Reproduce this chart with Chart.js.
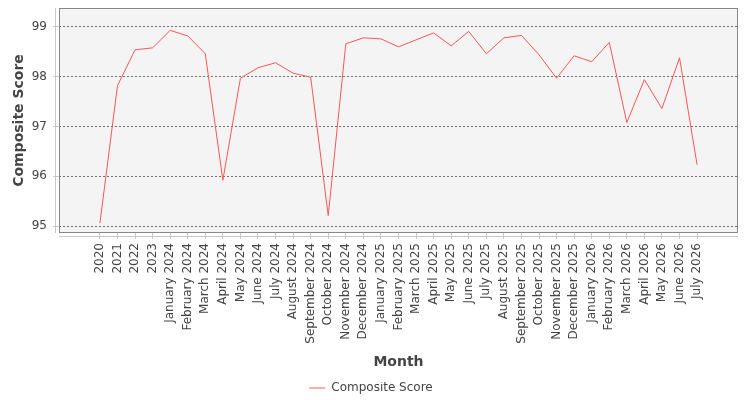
<!DOCTYPE html>
<html>
<head>
<meta charset="utf-8">
<script src="https://cdn.jsdelivr.net/npm/chart.js@4/dist/chart.umd.min.js"></script>
<style>
  html, body { margin: 0; padding: 0; background: #fff; }
  #wrap { width: 750px; height: 400px; }
</style>
</head>
<body>
<div id="wrap"><canvas id="myChart" width="750" height="400"></canvas></div>
<script>
// categories along the x axis
const months = [
  "2020", "2021", "2022", "2023",
  "January 2024", "February 2024", "March 2024", "April 2024", "May 2024", "June 2024",
  "July 2024", "August 2024", "September 2024", "October 2024", "November 2024", "December 2024",
  "January 2025", "February 2025", "March 2025", "April 2025", "May 2025", "June 2025",
  "July 2025", "August 2025", "September 2025", "October 2025", "November 2025", "December 2025",
  "January 2026", "February 2026", "March 2026", "April 2026", "May 2026", "June 2026", "July 2026"
];
// series values
const compositeScore = [
  95.06, 97.82, 98.54, 98.58,
  98.93, 98.82, 98.46, 95.92, 97.97, 98.18,
  98.28, 98.07, 97.99, 95.21, 98.66, 98.78,
  98.76, 98.60, 98.74, 98.88, 98.62, 98.91,
  98.46, 98.78, 98.83, 98.44, 97.97, 98.42,
  98.30, 98.69, 97.08, 97.94, 97.36, 98.38, 96.23
];
const yTicks = [95, 96, 97, 98, 99];

const textColor = "#444";
const fontFamily = "'DejaVu Sans', sans-serif";

// plot background, border and the offset axis lines
const plotFrame = {
  id: "plotFrame",
  beforeDraw(chart) {
    const { ctx, chartArea: a } = chart;
    ctx.save();
    ctx.fillStyle = "#f4f4f4";
    ctx.fillRect(a.left, a.top, a.right - a.left, a.bottom - a.top);
    ctx.restore();
  },
  afterDraw(chart) {
    const { ctx, chartArea: a } = chart;
    ctx.save();
    ctx.strokeStyle = "#888";
    ctx.lineWidth = 1;
    ctx.strokeRect(a.left + 0.5, a.top + 0.5, a.right - a.left - 1, a.bottom - a.top - 1);
    ctx.strokeStyle = "#c8c8c8";
    ctx.beginPath();
    ctx.moveTo(a.left - 3.5, a.top);
    ctx.lineTo(a.left - 3.5, a.bottom);
    ctx.moveTo(a.left, a.bottom + 3.5);
    ctx.lineTo(a.right, a.bottom + 3.5);
    ctx.stroke();
    ctx.restore();
  }
};

const noPad = (scale) => {
  scale.paddingTop = 0;
  scale.paddingBottom = 0;
  scale.paddingLeft = 0;
  scale.paddingRight = 0;
};

new Chart(document.getElementById("myChart").getContext("2d"), {
  type: "line",
  data: {
    datasets: [{
      label: "Composite Score",
      data: compositeScore.map((v, i) => ({ x: i, y: v })),
      borderColor: "rgb(255,85,85)",
      backgroundColor: "rgb(255,85,85)",
      borderWidth: 1,
      pointRadius: 0,
      tension: 0,
      fill: false
    }]
  },
  options: {
    responsive: false,
    animation: false,
    devicePixelRatio: 1,
    layout: { padding: { top: 8, right: 12, left: 4, bottom: -4 } },
    plugins: {
      legend: {
        position: "bottom",
        labels: {
          usePointStyle: true,
          pointStyle: "line",
          pointStyleWidth: 16,
          boxHeight: 10,
          color: textColor,
          padding: 0,
          font: { family: fontFamily, size: 12 }
        }
      },
      tooltip: { enabled: false }
    },
    scales: {
      x: {
        type: "linear",
        min: -2.33,
        max: 36.33,
        afterBuildTicks: (scale) => { scale.ticks = months.map((_, i) => ({ value: i })); },
        afterFit: (scale) => { scale.height = 149; noPad(scale); },
        border: { display: false },
        grid: {
          drawOnChartArea: false,
          drawTicks: true,
          tickLength: 6,
          tickColor: "#c8c8c8"
        },
        ticks: {
          autoSkip: false,
          minRotation: 90,
          maxRotation: 90,
          padding: 4,
          color: textColor,
          font: { family: fontFamily, size: 12 },
          callback: (v) => months[v]
        },
        title: {
          display: true,
          text: "Month",
          color: textColor,
          font: { family: fontFamily, size: 14, weight: "bold" },
          padding: { top: 0, bottom: 11 }
        }
      },
      y: {
        min: 94.86,
        max: 99.38,
        afterBuildTicks: (scale) => { scale.ticks = yTicks.map(v => ({ value: v })); },
        afterFit: (scale) => { scale.width = 55; noPad(scale); },
        border: { display: false, dash: [2, 2] },
        grid: {
          color: "#707070",
          lineWidth: 1,
          tickLength: 6,
          tickColor: "#c8c8c8",
          tickBorderDash: []
        },
        ticks: {
          padding: 6,
          color: textColor,
          font: { family: fontFamily, size: 12 }
        },
        title: {
          display: true,
          text: "Composite Score",
          color: textColor,
          font: { family: fontFamily, size: 14, weight: "bold" },
          padding: { top: 7, bottom: 0 }
        }
      }
    }
  },
  plugins: [plotFrame]
});
</script>
</body>
</html>
